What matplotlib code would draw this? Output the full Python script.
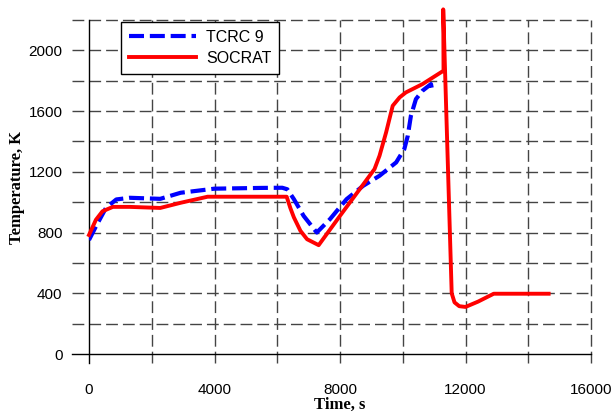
import matplotlib
matplotlib.use("Agg")
import matplotlib.pyplot as plt

# TCRC 9 measurement
tcrc_t = [0, 220, 540, 870, 1300, 2270, 2920, 4000, 5500, 6160, 6320,
          6530, 6840, 7260, 7680, 8210, 8740, 9260, 9790, 10050, 10160,
          10260, 10420, 10630, 10900, 10950]
tcrc_T = [751, 840, 962, 1018, 1029, 1022, 1062, 1089, 1094, 1095, 1085,
          1020, 910, 800, 888, 1020, 1108, 1174, 1262, 1350, 1437,
          1569, 1679, 1734, 1778, 1723]

# SOCRAT calculation
socrat_t = [0, 220, 430, 760, 1300, 2270, 2920, 3780, 5500, 6300, 6420,
            6530, 6740, 6950, 7320, 8000, 8630, 9100, 9260, 9470, 9680,
            9900, 10100, 10630, 11300, 11290, 11560, 11650, 11800, 12000,
            12400, 12900, 14650]
socrat_T = [784, 884, 940, 969, 969, 962, 996, 1036, 1036, 1036, 960,
            900, 811, 756, 717, 910, 1086, 1218, 1306, 1460, 1635,
            1690, 1723, 1778, 1866, 2270, 400, 340, 315, 310,
            345, 397, 397]

x_ticks = [0, 4000, 8000, 12000, 16000]
y_ticks = [0, 400, 800, 1200, 1600, 2000]
x_grid = [2000, 4000, 6000, 8000, 10000, 12000, 14000, 16000]
y_grid = [200, 400, 600, 800, 1000, 1200, 1400, 1600, 1800, 2000, 2200]

fig = plt.figure(figsize=(6.13, 4.12), dpi=100)
ax = fig.add_axes([89 / 613, 58 / 412, 502 / 613, 334 / 412])
ax.set_xlim(0, 16000)
ax.set_ylim(0, 2200)

# dashed grid that sticks out past the axes like long ticks
dash = (0, (8.5, 3.6))
for y in y_grid:
    ax.axhline(y, xmin=-0.034, xmax=1, color="#444444", lw=1.0,
               linestyle=dash, clip_on=False, zorder=1)
for x in x_grid:
    ax.axvline(x, ymin=-0.027, ymax=1, color="#444444", lw=1.0,
               linestyle=dash, clip_on=False, zorder=1)
ax.axhline(0, xmin=-0.034, xmax=1, color="black", lw=1.0, clip_on=False, zorder=2)
ax.axvline(0, ymin=-0.027, ymax=1, color="black", lw=1.0, clip_on=False, zorder=2)

for s in ax.spines.values():
    s.set_visible(False)

ax.plot(tcrc_t, tcrc_T, color="#0000ff", lw=3.0, linestyle=(0, (3.6, 1.4)),
        label="TCRC 9", zorder=3)
ax.plot(socrat_t, socrat_T, color="#ff0000", lw=2.8, label="SOCRAT",
        clip_on=False, zorder=4)

ax.set_xticks(x_ticks)
ax.set_yticks(y_ticks)
ax.tick_params(axis="both", length=0, labelsize=11)
ax.tick_params(axis="y", pad=19)
ax.tick_params(axis="x", pad=21)
for lab in ax.get_xticklabels() + ax.get_yticklabels():
    lab.set_fontfamily("Liberation Sans")

ax.set_xlabel("Time, s", fontfamily="Liberation Serif", fontweight="bold", fontsize=12)
ax.set_ylabel("Temperature, K", fontfamily="Liberation Serif", fontweight="bold", fontsize=12)
ax.xaxis.set_label_coords(0.5, -0.128)
ax.yaxis.set_label_coords(-0.127, 0.5)

leg = ax.legend(loc="upper left", bbox_to_anchor=(0.064, 0.994), borderaxespad=0,
                fancybox=False, edgecolor="black", framealpha=1,
                prop={"family": "Liberation Sans", "size": 11.5},
                handlelength=4.2, handletextpad=0.6, labelspacing=0.35, borderpad=0.5)
leg.get_frame().set_linewidth(1.0)
leg.set_zorder(5)

fig.savefig("out.png", dpi=100)
